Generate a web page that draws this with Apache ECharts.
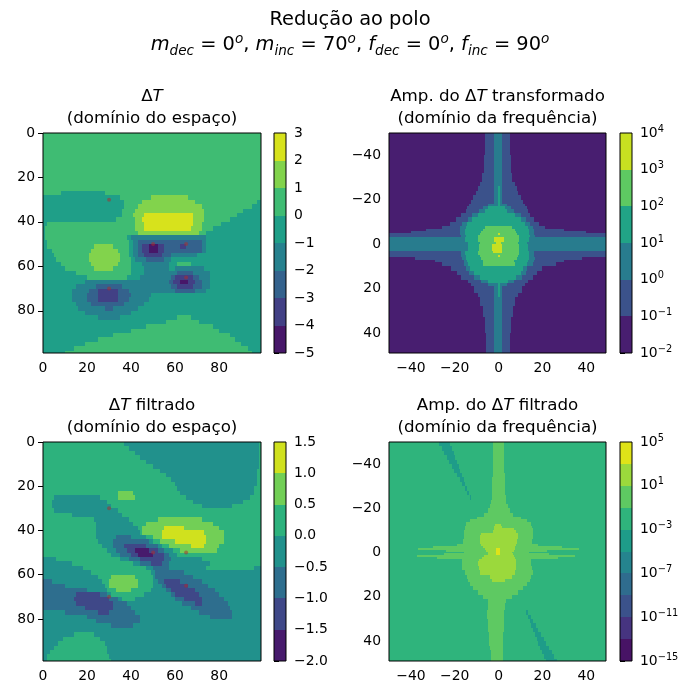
<!DOCTYPE html>
<html>
<head>
<meta charset="utf-8">
<script src="https://cdn.jsdelivr.net/npm/echarts@6/dist/echarts.min.js"></script>
<style>
  html, body { margin: 0; padding: 0; background: #fff; }
  #chart { width: 700px; height: 700px; }
</style>
</head>
<body>
<div id="chart"></div>
<script>
// contour level boundaries (log panels hold the decade exponents)
var tlLevels = [-5, -4, -3, -2, -1, 0, 1, 2, 3];
var blLevels = [-2, -1.5, -1, -0.5, 0, 0.5, 1, 1.5];
var trExponents = [-2, -1, 0, 1, 2, 3, 4];
var brExponents = [-15, -13, -11, -9, -7, -5, -3, -1, 1, 3, 5];

// tick labels
var spaceTicks = [0, 20, 40, 60, 80];
var freqTicks = [-40, -20, 0, 20, 40];
var tlBarTicks = [-5, -4, -3, -2, -1, 0, 1, 2, 3];
var blBarTicks = [-2, -1.5, -1, -0.5, 0, 0.5, 1, 1.5];
var trBarTicks = [-2, -1, 0, 1, 2, 3, 4];
var brBarTicks = [-15, -11, -7, -3, 1, 5];

// source positions (red dots)
var sourceX = [30, 50, 65, 65, 30];
var sourceY = [30, 50, 50, 65, 70];

// filled-contour bands:
// [strip start y, "band@x band@x ..."] ; a strip runs to the next start
var tlStrips = [
  [0, "5@0"],
  [26, "5@0 4@8 5@28"],
  [28, "4@0 5@35 6@49 5@66"],
  [30, "4@0 5@37 6@45 5@69 4@97"],
  [32, "4@0 5@37 6@43 5@72 4@95"],
  [34, "4@0 5@36 6@42 5@73 4@91"],
  [36, "4@0 5@36 6@41 7@46 6@68 5@73 4@88"],
  [38, "4@0 5@33 6@42 7@45 6@68 5@73 4@85"],
  [40, "4@0 5@2 6@42 7@46 6@68 5@72 4@81"],
  [42, "4@0 5@1 6@42 7@46 6@67 5@72 4@77"],
  [44, "4@0 5@1 6@43 5@71 4@74"],
  [46, "4@0 5@1 4@38 3@40 4@74"],
  [48, "4@0 5@2 4@39 3@41 2@43 3@72 4@74"],
  [50, "4@0 5@2 6@23 5@32 4@39 3@41 2@43 1@45 0@48 1@52 2@55 1@62 2@65 3@72 4@74"],
  [52, "4@0 5@4 6@22 5@34 4@39 3@41 2@43 1@45 0@48 1@52 2@55 3@72 4@74"],
  [54, "4@0 5@5 6@21 5@35 4@39 3@41 2@43 1@46 2@54 3@58 4@70"],
  [56, "4@0 5@6 6@21 5@35 4@40 3@42 2@47 3@55 4@58"],
  [58, "4@0 5@8 6@22 5@34 4@40 3@45 4@57 5@61 4@67"],
  [60, "4@0 5@10 6@23 5@32 4@40 3@46 4@57 3@60 4@73"],
  [62, "4@0 5@15 4@40 3@46 2@61 3@68 4@76"],
  [64, "4@0 5@20 4@38 3@44 2@58 1@60 2@68 3@71 4@76"],
  [66, "4@0 3@19 2@57 1@59 0@62 1@66 2@69 3@72 4@76"],
  [68, "4@0 3@15 2@24 3@36 2@58 1@61 2@68 3@72 4@76"],
  [70, "4@0 3@13 2@21 1@25 2@34 3@39 2@60 3@69 4@74"],
  [72, "4@0 3@13 2@20 1@25 2@34 3@40 4@49"],
  [74, "4@0 3@13 2@20 1@25 2@34 3@39 4@48"],
  [76, "4@0 3@15 2@22 3@37 4@46"],
  [78, "4@0 3@16 2@28 3@32 4@43"],
  [80, "4@0 3@19 4@40"],
  [82, "4@0 3@25 4@35 5@61 4@67"],
  [84, "4@0 5@56 4@71"],
  [86, "4@0 5@47 4@77"],
  [88, "4@0 5@40 4@80"],
  [90, "4@0 5@32 4@85"],
  [92, "4@0 5@25 4@87"],
  [94, "4@0 5@19 4@90"],
  [96, "4@0 5@14 4@93"],
  [98, "4@0 5@10 4@95"]
];

var blStrips = [
  [0, "4@0 3@37 4@98"],
  [2, "4@0 3@39 4@98"],
  [4, "4@0 3@42 4@98"],
  [6, "4@0 3@44 4@98"],
  [8, "4@0 3@47 4@98"],
  [10, "4@0 3@50 4@98"],
  [12, "4@0 3@53 4@97"],
  [14, "4@0 3@56 4@97"],
  [16, "4@0 3@58 4@97"],
  [18, "4@0 3@60 4@97"],
  [20, "4@0 3@61 4@96"],
  [22, "4@0 5@34 4@41 3@62 4@96"],
  [24, "4@0 3@5 4@26 5@34 4@42 3@65 4@94"],
  [26, "4@0 3@4 4@29 3@68 4@91"],
  [28, "4@0 3@4 4@31 3@72 4@86"],
  [30, "4@0 3@5 4@34"],
  [32, "4@0 3@13 4@36"],
  [34, "4@0 3@23 4@39 5@52 4@72"],
  [36, "4@0 3@24 4@41 5@47 4@77"],
  [38, "4@0 3@24 4@43 5@45 6@55 5@64 4@80"],
  [40, "4@0 3@24 4@44 5@45 6@54 5@73 4@82"],
  [42, "4@0 3@24 2@33 3@40 4@47 5@50 6@54 5@74 4@82"],
  [44, "4@0 3@25 2@32 3@48 4@50 5@53 6@60 5@74 4@82"],
  [46, "4@0 3@27 2@32 1@37 2@47 3@52 4@54 5@57 6@67 5@73 4@80"],
  [48, "4@0 3@29 2@33 1@38 0@42 1@48 2@52 3@55 4@59 5@62 4@79"],
  [50, "4@0 3@31 2@35 1@40 0@43 1@50 2@55 3@57 4@61"],
  [52, "3@0 4@6 3@35 2@39 1@44 2@55 3@58 4@72"],
  [54, "3@0 4@13 3@41 2@44 1@49 2@54 3@57 4@76"],
  [56, "3@0 4@18 3@47 2@50 3@57 4@74 3@96"],
  [58, "3@0 4@22 3@49 2@51 3@64"],
  [60, "3@0 4@25 5@31 4@42 3@50 2@51 3@68"],
  [62, "2@0 3@4 4@27 5@30 4@43 3@50 2@52 1@55 2@62 3@72"],
  [64, "2@0 3@10 4@28 5@30 4@43 3@50 2@54 1@56 2@66 3@75"],
  [66, "2@0 3@20 4@29 5@33 4@40 3@49 2@56 1@58 2@69 3@78"],
  [68, "2@0 1@15 2@26 3@29 4@31 3@46 2@58 1@60 2@71 3@80"],
  [70, "2@0 1@14 2@30 3@34 4@36 3@42 2@60 1@64 2@72 3@82"],
  [72, "2@0 1@15 2@32 3@38 2@63 1@69 2@72 3@84"],
  [74, "2@0 1@19 2@32 3@40 2@67 3@85"],
  [76, "3@0 2@10 1@25 2@30 3@42 2@71 3@86"],
  [78, "3@0 2@20 3@44 2@76 3@86"],
  [80, "3@0 2@24 3@44"],
  [82, "3@0 2@31 3@41"],
  [84, "3@0"],
  [86, "3@0 4@14 3@23"],
  [88, "3@0 4@9 3@26"],
  [90, "3@0 4@7 3@28"],
  [92, "3@0 4@5 3@29"],
  [94, "3@0 4@3 3@29"],
  [96, "3@0 4@2 3@30"],
  [98, "3@0 4@2 3@31"]
];

var trStrips = [
  [-50, "0@-50 1@-6 2@-2 1@1.5 0@5"],
  [-40, "0@-50 1@-6.5 2@-2 1@1.5 0@5.5"],
  [-32, "0@-50 1@-7.5 2@-2 1@1.5 0@6"],
  [-28, "0@-50 1@-8.5 2@-2 1@1.5 0@7.5"],
  [-26, "0@-50 1@-9.5 2@-2 3@-0.5 2@0.5 1@1.5 0@8.5"],
  [-24, "0@-50 1@-10.5 2@-2 3@-0.5 2@0.5 1@1.5 0@9"],
  [-22, "0@-50 1@-11.5 2@-2 3@-0.5 2@0.5 1@1.5 0@10"],
  [-20, "0@-50 1@-12.5 2@-2 3@-0.5 2@0.5 1@1.5 0@11"],
  [-18, "0@-50 1@-13.5 2@-5 3@-0.5 2@0.5 1@4 0@12"],
  [-17, "0@-50 1@-14.5 2@-7 3@-4.8 2@2.7 1@5.5 0@13"],
  [-16, "0@-50 1@-15 2@-9 3@-6 2@4 1@7 0@13.5"],
  [-14, "0@-50 1@-17 2@-12 3@-9.5 2@7.5 1@10 0@14.5"],
  [-12, "0@-50 1@-19.5 2@-14 3@-12 2@10 1@12.5 0@16"],
  [-10, "0@-50 1@-22 2@-16.5 3@-14.5 2@12 1@14.5 0@18.5"],
  [-8, "0@-50 1@-26 2@-17.5 3@-15 4@-6 3@6 2@13.5 1@15.5 0@21"],
  [-7, "0@-50 1@-33 2@-17.5 3@-15.4 4@-7 3@7.3 2@14 1@16 0@30"],
  [-6, "0@-50 1@-40 2@-17.5 3@-15.4 4@-8 3@8 2@14 1@16 0@40"],
  [-5, "1@-50 2@-17.5 3@-15.4 4@-8.5 5@-0.5 4@0.5 3@8.5 2@14 1@16"],
  [-4, "1@-50 2@-17 3@-15 4@-9.4 3@9.5 2@14.5 1@16.5"],
  [-3, "2@-50 3@-15.4 4@-9.4 5@-2 4@2.4 3@9.5 2@14"],
  [-1, "2@-50 3@-14 4@-8.5 5@-1 4@1 3@9 2@13"],
  [0, "2@-50 3@-14 4@-9 5@-3 4@1.5 3@9.5 2@13.5"],
  [3, "1@-50 2@-17 3@-15.4 4@-9.4 5@-2.5 4@1.5 3@9.5 2@14 1@16"],
  [4, "1@-50 2@-17 3@-15.4 4@-9.4 3@9.5 2@14 1@16"],
  [5, "1@-50 2@-17 3@-15 4@-8.5 5@-0.5 4@0.5 3@9 2@14 1@16"],
  [6, "0@-50 1@-38 2@-16.5 3@-15 4@-8 3@8.5 2@14 1@16.5 0@38"],
  [7, "0@-50 1@-29 2@-16 3@-14.5 4@-7 3@7 2@13.5 1@16 0@30"],
  [8, "0@-50 1@-26 2@-16 3@-14 4@-7 3@7.3 2@13 1@15.5 0@26"],
  [10, "0@-50 1@-21.5 2@-15 3@-13 2@11 1@13 0@20"],
  [12, "0@-50 1@-19 2@-13.5 3@-11 2@10 1@12.5 0@17.5"],
  [14, "0@-50 1@-17 2@-11 3@-8.5 2@8 1@10.5 0@15.5"],
  [16, "0@-50 1@-14 2@-8 3@-5 2@4.5 1@7 0@13.5"],
  [17.5, "0@-50 1@-12.5 2@-5 3@-0.5 2@0.5 1@4 0@12"],
  [19, "0@-50 1@-11 2@-2 3@-0.5 2@0.5 1@1.5 0@10.5"],
  [22, "0@-50 1@-9.5 2@-2 3@-0.5 2@0.5 1@1.5 0@9"],
  [24, "0@-50 1@-8.6 2@-2 1@1.5 0@7.5"],
  [28, "0@-50 1@-7.3 2@-2 1@1.5 0@6.5"],
  [33, "0@-50 1@-6.3 2@-2 1@1.5 0@5.7"],
  [40, "0@-50 1@-5.7 2@-2 1@1.5 0@5"]
];

var brStrips = [
  [-50, "6@-50 5@-27 6@-22 7@-2.6 6@2.4"],
  [-48, "6@-50 5@-26 6@-21.2 7@-2.6 6@2.4"],
  [-46, "6@-50 5@-24.9 6@-20.5 7@-2.6 6@2.4"],
  [-44, "6@-50 5@-23.7 6@-19.7 7@-2.6 6@2.5"],
  [-42, "6@-50 5@-22.5 6@-18.9 7@-2.6 6@2.5"],
  [-40, "6@-50 5@-21.3 6@-18.2 7@-2.6 6@2.5"],
  [-38, "6@-50 5@-20.2 6@-17.4 7@-2.7 6@2.6"],
  [-36, "6@-50 5@-19 6@-16.6 7@-2.7 6@2.7"],
  [-34, "6@-50 5@-17.8 6@-15.8 7@-2.8 6@2.8"],
  [-32, "6@-50 5@-16.6 6@-15.1 7@-2.9 6@2.9"],
  [-30, "6@-50 5@-15.4 6@-14.3 7@-3 6@3"],
  [-28, "6@-50 5@-14.2 6@-13.5 7@-3.1 6@3.1"],
  [-26, "6@-50 5@-13 6@-12.7 7@-3.2 6@3.3"],
  [-24, "6@-50 7@-3.4 6@3.6"],
  [-22, "6@-50 7@-4 6@4.2"],
  [-20, "6@-50 7@-5 6@5"],
  [-18, "6@-50 7@-6.5 6@6.5"],
  [-16, "6@-50 7@-10 6@10"],
  [-15, "6@-50 7@-13 6@13"],
  [-14, "6@-50 7@-14.7 6@14.8"],
  [-13, "6@-50 7@-15 8@-1.8 7@1.2 6@15"],
  [-12, "6@-50 7@-15.2 8@-2 7@1.5 6@15.2"],
  [-11, "6@-50 7@-15.5 8@-2 7@7 6@15.5"],
  [-10, "6@-50 7@-15.6 8@-2.5 7@8 6@15.6"],
  [-9, "6@-50 7@-15.7 8@-8 7@8.8 6@15.6"],
  [-8, "6@-50 7@-16 8@-8.6 7@8.8 6@15.5"],
  [-6, "6@-50 7@-16.3 8@-8.6 7@8.5 6@15.2"],
  [-4, "6@-50 7@-19 8@-8 7@8 6@18"],
  [-3, "6@-50 7@-30 8@-7 7@7.5 6@29"],
  [-2, "6@-50 7@-36.6 8@-6 9@-1 8@0.5 7@7.3 6@36.7"],
  [-1, "6@-50 7@-24 8@-5.6 9@-1 8@0.5 7@7 6@22"],
  [-0.5, "6@-50 7@-16 8@-5 9@-1 8@0.5 7@6 6@14"],
  [0.3, "6@-50 7@-25 8@-5 9@-1 8@0.5 7@6.5 6@23"],
  [1, "6@-50 7@-37 8@-6.5 7@7 6@35"],
  [2, "6@-50 7@-28 8@-7.5 7@7.5 6@27"],
  [3, "6@-50 7@-16.5 8@-9 7@8 6@15"],
  [4, "6@-50 7@-16.6 8@-9.4 7@8 6@15"],
  [6, "6@-50 7@-16.5 8@-9 7@7.8 6@15.3"],
  [8, "6@-50 7@-15.4 8@-8.6 7@7.3 6@15.6"],
  [10, "6@-50 7@-14.5 8@-4 7@6 6@14.8"],
  [12, "6@-50 7@-14 8@-3 7@3 6@14.2"],
  [13.5, "6@-50 7@-13 6@13"],
  [15, "6@-50 7@-11.5 6@11"],
  [17, "6@-50 7@-9.5 6@9"],
  [19, "6@-50 7@-7 6@6"],
  [21, "6@-50 7@-5 6@3.5"],
  [23, "6@-50 7@-5 6@2.7"],
  [26, "6@-50 7@-5.1 6@2.4 5@12.7 6@13.3"],
  [28, "6@-50 7@-5.1 6@2.4 5@13.5 6@14.6"],
  [30, "6@-50 7@-5 6@2.4 5@14.2 6@15.8"],
  [32, "6@-50 7@-5 6@2.3 5@15 6@17"],
  [34, "6@-50 7@-5 6@2.3 5@15.8 6@18.2"],
  [36, "6@-50 7@-4.6 6@2.2 5@16.6 6@19.4"],
  [38, "6@-50 7@-4.5 6@2.2 5@17.4 6@20.6"],
  [40, "6@-50 7@-4.3 6@2.1 5@18.2 6@21.8"],
  [42, "6@-50 7@-4 6@2.1 5@19 6@23"],
  [44, "6@-50 7@-3.6 6@2 5@19.8 6@24.2"],
  [46, "6@-50 7@-3.4 6@2 5@20.6 6@25.4"],
  [48, "6@-50 7@-3.3 6@2 5@21.4 6@26.6"]
];

var FONT = 'DejaVu Sans';

// viridis colormap stops (0, 0.05, ... 1)
var viridisStops = ['#440154', '#471365', '#482475', '#463480', '#414487', '#3b528b', '#355f8d',
  '#2f6c8e', '#2a788e', '#25848e', '#21918c', '#1e9c89', '#22a884', '#2fb47c', '#44bf70',
  '#5ec962', '#7ad151', '#9bd93c', '#bddf26', '#dfe318', '#fde725'];

function hexRgb(h) {
  return [parseInt(h.substr(1, 2), 16), parseInt(h.substr(3, 2), 16), parseInt(h.substr(5, 2), 16)];
}
function viridis(t) {
  var f = Math.max(0, Math.min(1, t)) * 20;
  var i = Math.min(19, Math.floor(f)), u = f - i;
  var a = hexRgb(viridisStops[i]), b = hexRgb(viridisStops[i + 1]);
  var c = a.map(function (v, k) { return Math.round(v + (b[k] - v) * u); });
  return 'rgb(' + c.join(',') + ')';
}
// matplotlib contourf: each band gets the colour of its midpoint
function palette(n) {
  var out = [];
  for (var i = 0; i < n; i++) out.push(viridis((i + 0.5) / n));
  return out;
}

function stripItems(strips, hi) {
  var out = [];
  strips.forEach(function (s, i) {
    var y0 = s[0];
    var y1 = i + 1 < strips.length ? strips[i + 1][0] : hi;
    var runs = s[1].split(' ').map(function (r) {
      var p = r.split('@');
      return [+p[0], +p[1]];
    });
    runs.forEach(function (r, k) {
      var x1 = k + 1 < runs.length ? runs[k + 1][1] : hi;
      out.push([r[1], x1, y0, y1, r[0]]);
    });
  });
  return out;
}
function barItems(bounds) {
  return bounds.slice(0, -1).map(function (b, i) { return [0, 1, b, bounds[i + 1], i]; });
}

function cellSeries(idx, items, colors) {
  return {
    type: 'custom',
    xAxisIndex: idx,
    yAxisIndex: idx,
    data: items,
    clip: true,
    silent: true,
    animation: false,
    encode: { x: [0, 1], y: [2, 3] },
    renderItem: function (params, api) {
      var a = api.coord([api.value(0), api.value(2)]);
      var b = api.coord([api.value(1), api.value(3)]);
      // snap to whole pixels so neighbouring cells leave no seams
      var x0 = Math.round(Math.min(a[0], b[0])), x1 = Math.round(Math.max(a[0], b[0]));
      var y0 = Math.round(Math.min(a[1], b[1])), y1 = Math.round(Math.max(a[1], b[1]));
      return {
        type: 'rect',
        shape: { x: x0, y: y0, width: x1 - x0, height: y1 - y0 },
        style: { fill: colors[api.value(4)] }
      };
    }
  };
}

function minus(v) { return v < 0 ? '\u2212' + Math.abs(v) : String(v); }
function oneDecimal(v) { return v < 0 ? '\u2212' + Math.abs(v).toFixed(1) : v.toFixed(1); }

var tickStyle = { show: true, length: 5, lineStyle: { color: '#000', width: 1 } };
var labelStyle = { color: '#000', fontSize: 13.9, fontFamily: FONT };

function panelX(i, min, max, ticks) {
  return {
    gridIndex: i, type: 'value', min: min, max: max,
    axisLine: { show: false }, splitLine: { show: false },
    axisTick: Object.assign({ customValues: ticks }, tickStyle),
    axisLabel: Object.assign({ customValues: ticks, margin: 8, formatter: minus }, labelStyle)
  };
}
function panelY(i, min, max, ticks) {
  var a = panelX(i, min, max, ticks);
  a.inverse = true;
  return a;
}
function barX(i) {
  return { gridIndex: i, type: 'value', min: 0, max: 1, show: false };
}
function barY(i, min, max, ticks, fmt, rich) {
  var lab = Object.assign({ customValues: ticks, margin: 8, formatter: fmt, align: 'left' }, labelStyle);
  if (rich) lab.rich = rich;
  return {
    gridIndex: i, type: 'value', min: min, max: max, position: 'right',
    axisLine: { show: false }, splitLine: { show: false },
    axisTick: Object.assign({ customValues: ticks }, tickStyle),
    axisLabel: lab
  };
}
var powRich = {
  b: { fontSize: 13.9, fontFamily: FONT, color: '#000', lineHeight: 18 },
  e: { fontSize: 9.8, fontFamily: FONT, color: '#000', verticalAlign: 'top' }
};
function powFmt(v) { return '{b|10}{e|' + minus(v) + '}'; }

var frame = { show: true, borderColor: '#000', borderWidth: 1, backgroundColor: 'rgba(0,0,0,0)', z: 5, containLabel: false, outerBoundsMode: 'none' };
function grid(l, t, w, h) {
  return Object.assign({ left: l, top: t, width: w, height: h }, frame);
}

var tlColors = palette(tlLevels.length - 1);
var blColors = palette(blLevels.length - 1);
var trColors = palette(trExponents.length - 1);
var brColors = palette(brExponents.length - 1);

function titleText(x, y, text, size) {
  return {
    type: 'text', x: x, y: y, z: 10,
    style: {
      text: text, align: 'center', verticalAlign: 'middle', fill: '#000',
      fontSize: size, fontFamily: FONT,
      rich: {
        u: { fontSize: size, fontFamily: FONT, fill: '#000' },
        i: { fontSize: size, fontFamily: FONT, fontStyle: 'italic', fill: '#000' }
      }
    }
  };
}

var supSize = 19.4, subSize = 13.6;
var mathRich = {
  m: { fontSize: supSize, fontFamily: FONT, fontStyle: 'italic', fill: '#000', lineHeight: 26 },
  t: { fontSize: supSize, fontFamily: FONT, fill: '#000', lineHeight: 26 },
  s: { fontSize: subSize, fontFamily: FONT, fontStyle: 'italic', fill: '#000', verticalAlign: 'bottom' },
  p: { fontSize: subSize, fontFamily: FONT, fontStyle: 'italic', fill: '#000', verticalAlign: 'top' }
};

var chart = echarts.init(document.getElementById('chart'), null, { renderer: 'canvas' });
chart.setOption({
  animation: false,
  backgroundColor: '#fff',
  grid: [
    grid(43, 133, 218, 220),
    grid(389, 133, 217, 220),
    grid(43, 442, 218, 219),
    grid(389, 442, 217, 219),
    grid(274, 133, 12, 220),
    grid(620, 133, 12, 220),
    grid(274, 442, 12, 219),
    grid(620, 442, 12, 219)
  ],
  xAxis: [
    panelX(0, 0, 99, spaceTicks),
    panelX(1, -50, 49, freqTicks),
    panelX(2, 0, 99, spaceTicks),
    panelX(3, -50, 49, freqTicks),
    barX(4), barX(5), barX(6), barX(7)
  ],
  yAxis: [
    panelY(0, 0, 99, spaceTicks),
    panelY(1, -50, 49, freqTicks),
    panelY(2, 0, 99, spaceTicks),
    panelY(3, -50, 49, freqTicks),
    barY(4, -5, 3, tlBarTicks, minus),
    barY(5, -2, 4, trBarTicks, powFmt, powRich),
    barY(6, -2, 1.5, blBarTicks, oneDecimal),
    barY(7, -15, 5, brBarTicks, powFmt, powRich)
  ],
  series: [
    cellSeries(0, stripItems(tlStrips, 99), tlColors),
    cellSeries(1, stripItems(trStrips, 49), trColors),
    cellSeries(2, stripItems(blStrips, 99), blColors),
    cellSeries(3, stripItems(brStrips, 49), brColors),
    cellSeries(4, barItems(tlLevels), tlColors),
    cellSeries(5, barItems(trExponents), trColors),
    cellSeries(6, barItems(blLevels), blColors),
    cellSeries(7, barItems(brExponents), brColors),
    {
      type: 'scatter', xAxisIndex: 0, yAxisIndex: 0, silent: true, z: 3,
      data: sourceX.map(function (x, i) { return [x, sourceY[i]]; }),
      symbolSize: 4, itemStyle: { color: 'rgba(175,45,45,0.65)' }
    },
    {
      type: 'scatter', xAxisIndex: 2, yAxisIndex: 2, silent: true, z: 3,
      data: sourceX.map(function (x, i) { return [x, sourceY[i]]; }),
      symbolSize: 4, itemStyle: { color: 'rgba(175,45,45,0.65)' }
    }
  ],
  graphic: [
    titleText(350, 20, 'Redução ao polo', supSize),
    {
      type: 'text', x: 350, y: 45, z: 10,
      style: {
        text: '{m|m}{s|dec}{t| = 0}{p|o}{t|, }{m|m}{s|inc}{t| = 70}{p|o}{t|, }' +
              '{m|f}{s|dec}{t| = 0}{p|o}{t|, }{m|f}{s|inc}{t| = 90}{p|o}',
        align: 'center', verticalAlign: 'middle', fill: '#000',
        fontSize: supSize, fontFamily: FONT, rich: mathRich
      }
    },
    titleText(152, 97, '{u|Δ}{i|T}', 16.7),
    titleText(152, 119, '(domínio do espaço)', 16.7),
    titleText(497.5, 97, '{u|Amp. do Δ}{i|T}{u| transformado}', 16.7),
    titleText(497.5, 119, '(domínio da frequência)', 16.7),
    titleText(152, 406, '{u|Δ}{i|T}{u| filtrado}', 16.7),
    titleText(152, 428, '(domínio do espaço)', 16.7),
    titleText(497.5, 406, '{u|Amp. do Δ}{i|T}{u| filtrado}', 16.7),
    titleText(497.5, 428, '(domínio da frequência)', 16.7)
  ]
});
</script>
</body>
</html>
